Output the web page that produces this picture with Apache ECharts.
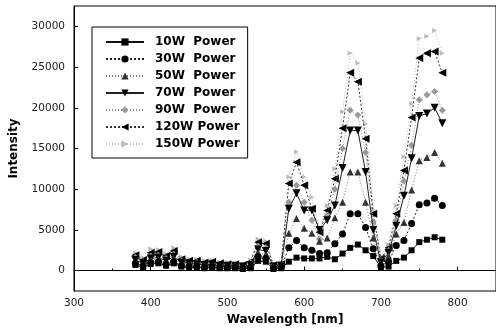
<!DOCTYPE html>
<html>
<head>
<meta charset="utf-8">
<script src="https://cdn.jsdelivr.net/npm/echarts@6/dist/echarts.min.js"></script>
<style>
  html, body { margin: 0; padding: 0; background: #fff; }
  #chart { width: 496px; height: 333px; }
</style>
</head>
<body>
<div id="chart"></div>
<script>
const wavelengths = [380, 390, 400, 410, 420, 430, 440, 450, 460, 470, 480, 490, 500, 510, 520, 530,
  540, 550, 560, 570, 580, 590, 600, 610, 620, 630, 640, 650, 660, 670, 680, 690, 700, 710, 720, 730,
  740, 750, 760, 770, 780]

const power10 = [700, 400, 800, 900, 600, 900, 500, 400, 400, 300, 400, 300, 300, 300, 200, 300,
  1200, 1100, 200, 300, 1100, 1600, 1500, 1500, 1500, 1700, 1400, 2100, 2800, 3200, 2500, 1800, 400, 500, 1200, 1600,
  2500, 3500, 3800, 4100, 3800]
const power30 = [900, 600, 1000, 1100, 800, 1100, 600, 500, 500, 400, 500, 400, 400, 400, 300, 400,
  1700, 1500, 300, 400, 2800, 3700, 2800, 2500, 2100, 2200, 3300, 4500, 7000, 7000, 5300, 2700, 600, 1100, 3100, 3700,
  5800, 8100, 8300, 8900, 8000]
const power50 = [1100, 700, 1300, 1400, 1000, 1500, 800, 700, 700, 600, 600, 500, 500, 500, 400, 500,
  2200, 2000, 400, 500, 4600, 6400, 5200, 4600, 3600, 4000, 6500, 8400, 12100, 12100, 8400, 4000, 800, 1800, 4500, 5900,
  9900, 13500, 13900, 14500, 13200]
const power70 = [1300, 900, 1500, 1600, 1200, 1700, 1000, 900, 800, 700, 800, 600, 600, 600, 500, 700,
  2600, 2400, 500, 600, 7600, 9500, 7400, 7400, 5000, 6200, 8000, 12600, 17200, 17200, 12100, 5000, 1000, 2200, 5500, 9200,
  13800, 19000, 19300, 20000, 18100]
const power90 = [1600, 1100, 1800, 1900, 1500, 2000, 1200, 1000, 1000, 800, 900, 700, 700, 700, 600, 900,
  3000, 2800, 600, 700, 8400, 10500, 8400, 6200, 3900, 6800, 10000, 15000, 19700, 19100, 14500, 6000, 1200, 2500, 6200, 11000,
  15400, 21000, 21600, 22000, 19700]
const power120 = [1900, 1300, 2200, 2300, 1800, 2400, 1400, 1200, 1200, 1000, 1100, 900, 800, 800, 700, 1100,
  3500, 3300, 700, 800, 10700, 13300, 10500, 7600, 4700, 7400, 11300, 17500, 24300, 23200, 16200, 7000, 1500, 2800, 7000, 12300,
  18800, 26100, 26700, 26900, 24300]
const power150 = [2200, 1600, 2700, 2600, 2100, 2800, 1700, 1400, 1400, 1200, 1300, 1000, 1000, 900, 800, 1300,
  3900, 3600, 900, 1000, 11500, 14600, 11500, 9000, 5000, 8000, 12500, 19500, 26700, 25500, 18000, 7500, 1800, 3200, 8000, 14000,
  20500, 28500, 28800, 29500, 26700]

const yTicks = [0, 5000, 10000, 15000, 20000, 25000, 30000]

const seriesNames = ['10W  Power', '30W  Power', '50W  Power', '70W  Power', '90W  Power', '120W Power', '150W Power']

const pairs = (ys) => wavelengths.map((x, i) => [x, ys[i]])

// drawing styles per series, same order as seriesNames
const looks = [
  { data: power10, symbol: 'rect', size: 6, rotate: 0, color: '#000', line: 'solid', lineColor: '#111' },
  { data: power30, symbol: 'circle', size: 7, rotate: 0, color: '#000', line: [2, 2], lineColor: '#222' },
  { data: power50, symbol: 'triangle', size: 7, rotate: 0, color: '#333', line: [1, 2], lineColor: '#777' },
  { data: power70, symbol: 'triangle', size: 8, rotate: 180, color: '#000', line: 'solid', lineColor: '#222' },
  { data: power90, symbol: 'diamond', size: 7, rotate: 0, color: '#999', line: [1, 2], lineColor: '#888' },
  { data: power120, symbol: 'triangle', size: 8, rotate: 90, color: '#000', line: [2, 2], lineColor: '#333' },
  { data: power150, symbol: 'triangle', size: 5, rotate: -90, color: '#bbb', line: [1, 2], lineColor: '#bbb' }
]

const chart = echarts.init(document.getElementById('chart'), null, { renderer: 'canvas' })

const series = looks.map((s, i) => ({
  name: seriesNames[i],
  type: 'line',
  data: pairs(s.data),
  symbol: s.symbol,
  symbolSize: s.size,
  symbolRotate: s.rotate,
  showAllSymbol: true,
  z: 10 - i,
  itemStyle: { color: s.color },
  lineStyle: { color: s.lineColor, width: 1, type: s.line },
  animation: false
}))

const option = {
  backgroundColor: '#fff',
  animation: false,
  grid: {
    left: 71,
    top: 6,
    width: 429,
    height: 285,
    show: true,
    borderColor: '#000',
    borderWidth: 1
  },
  legend: {
    data: seriesNames,
    orient: 'vertical',
    left: 92,
    top: 27,
    width: 156,
    padding: [9, 8, 8, 13],
    itemWidth: 38,
    itemHeight: 9,
    itemGap: 5,
    borderColor: '#000',
    borderWidth: 1,
    textStyle: {
      fontFamily: 'DejaVu Sans',
      fontWeight: 'bold',
      fontSize: 12,
      lineHeight: 12,
      color: '#000',
      padding: [0, 0, 0, 6]
    }
  },
  xAxis: {
    type: 'value',
    min: 300,
    max: 850,
    interval: 100,
    name: 'Wavelength [nm]',
    nameLocation: 'middle',
    nameGap: 23,
    nameTextStyle: { fontFamily: 'DejaVu Sans', fontWeight: 'bold', fontSize: 12, color: '#000' },
    axisLine: { lineStyle: { color: '#000', width: 1 } },
    axisTick: { inside: true, length: 4, lineStyle: { color: '#000' } },
    minorTick: { show: true, splitNumber: 2, length: 2, lineStyle: { color: '#000' } },
    axisLabel: {
      showMaxLabel: false,
      margin: 7,
      fontFamily: 'DejaVu Sans',
      fontSize: 10.5,
      color: '#222',
      formatter: (v) => String(v)
    },
    splitLine: { show: false }
  },
  yAxis: {
    type: 'value',
    min: -2500,
    max: 32500,
    name: 'Intensity',
    nameLocation: 'middle',
    nameGap: 54,
    nameTextStyle: { fontFamily: 'DejaVu Sans', fontWeight: 'bold', fontSize: 12, color: '#000' },
    axisLine: { show: true, lineStyle: { color: '#000', width: 1 } },
    axisTick: { show: true, inside: true, length: 4, customValues: yTicks, lineStyle: { color: '#000' } },
    axisLabel: {
      customValues: yTicks,
      margin: 9,
      fontFamily: 'DejaVu Sans',
      fontSize: 10.5,
      color: '#222',
      formatter: (v) => String(v)
    },
    splitLine: { show: false }
  },
  series: series
}

chart.setOption(option)
</script>
</body>
</html>
